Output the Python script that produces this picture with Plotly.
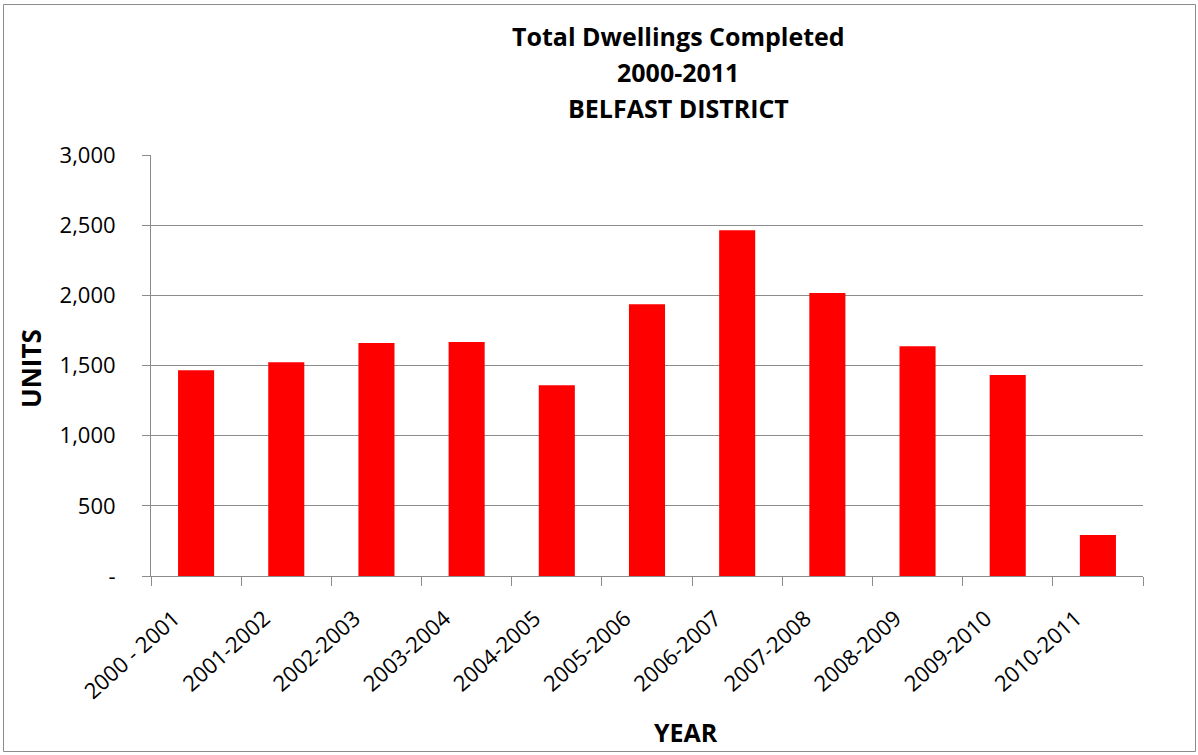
import plotly.graph_objects as go

categories = ["2000 - 2001", "2001-2002", "2002-2003", "2003-2004", "2004-2005",
              "2005-2006", "2006-2007", "2007-2008", "2008-2009", "2009-2010", "2010-2011"]
units = [1467, 1524, 1660, 1667, 1360, 1937, 2464, 2016, 1638, 1432, 292]
y_tickvals = [0, 500, 1000, 1500, 2000, 2500, 3000]
y_ticktext = ["-", "500", "1,000", "1,500", "2,000", "2,500", "3,000"]
title_lines = ["Total Dwellings Completed", "2000-2011", "BELFAST DISTRICT"]

W, H = 1198, 755
L, R, T, B = 151, 1143, 155, 576
pw, ph = R - L, B - T

def px_x(x):
    return (x - L) / pw

def px_y(y):
    return (B - y) / ph

FONT = "Open Sans"

fig = go.Figure(go.Bar(
    x=categories, y=units,
    marker=dict(color="#ff0000", line=dict(width=0)),
))

fig.update_layout(
    width=W, height=H,
    margin=dict(l=L, r=W - R, t=T, b=H - B),
    paper_bgcolor="white", plot_bgcolor="white",
    bargap=0.6,
    showlegend=False,
    font=dict(family=FONT, color="black"),
)

fig.update_xaxes(
    type="category",
    tickangle=-42,
    tickfont=dict(family=FONT, size=22, color="black"),
    showline=True, linecolor="#8c8c8c", linewidth=1,
    ticks="outside", ticklen=9, tickcolor="#8c8c8c", tickson="boundaries",
    ticklabelstandoff=20, ticklabelshift=-22,
    showgrid=False,
)
fig.update_yaxes(
    range=[0, 3000],
    tickvals=y_tickvals, ticktext=y_ticktext,
    tickfont=dict(family=FONT, size=22, color="black"),
    showline=True, linecolor="#8c8c8c", linewidth=1,
    ticks="outside", ticklen=8, tickcolor="#8c8c8c",
    showgrid=True, gridcolor="#8c8c8c", gridwidth=1,
    ticklabelstandoff=22,
    zeroline=False,
)

annotations = []
for line, yc in zip(title_lines, [36, 72, 108]):
    annotations.append(dict(
        text="<b>%s</b>" % line, x=px_x(678), y=px_y(yc),
        xref="paper", yref="paper", xanchor="center", yanchor="middle",
        showarrow=False, font=dict(family=FONT, size=25, color="black"),
    ))
annotations.append(dict(
    text="<b>UNITS</b>", x=px_x(31), y=px_y(369), xref="paper", yref="paper",
    xanchor="center", yanchor="middle", textangle=-90, showarrow=False,
    font=dict(family=FONT, size=26, color="black"),
))
annotations.append(dict(
    text="<b>YEAR</b>", x=px_x(686), y=px_y(732), xref="paper", yref="paper",
    xanchor="center", yanchor="middle", showarrow=False,
    font=dict(family=FONT, size=25, color="black"),
))
fig.update_layout(annotations=annotations)

fig.add_shape(
    type="rect", xref="paper", yref="paper",
    x0=px_x(3.5), x1=px_x(1195.5), y0=px_y(751.5), y1=px_y(4.5),
    line=dict(color="#8c8c8c", width=1), fillcolor="rgba(0,0,0,0)", layer="below",
)

fig.write_html("out.html", config={"displayModeBar": False},
               post_script="document.body.style.margin='0';")
